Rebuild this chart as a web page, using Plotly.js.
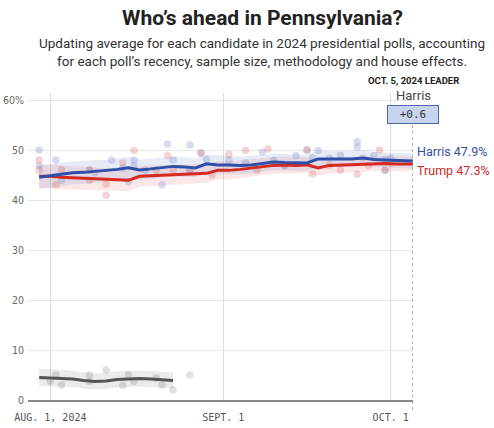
<!DOCTYPE html>
<html><head><meta charset="utf-8">
<script src="https://cdn.plot.ly/plotly-3.0.1.min.js"></script>
<style>html,body{margin:0;padding:0;background:#fff}#chart{width:494px;height:428px}</style>
</head><body><div id="chart"></div>
<script>
// ---- data ----
const avgDates = ["2024-07-30","2024-08-01","2024-08-03","2024-08-05","2024-08-07","2024-08-09","2024-08-11","2024-08-13","2024-08-15","2024-08-17","2024-08-19","2024-08-21","2024-08-23","2024-08-25","2024-08-27","2024-08-29","2024-08-31","2024-09-02","2024-09-04","2024-09-06","2024-09-08","2024-09-10","2024-09-12","2024-09-14","2024-09-16","2024-09-18","2024-09-20","2024-09-22","2024-09-24","2024-09-26","2024-09-28","2024-09-30","2024-10-02","2024-10-04","2024-10-05"];
const harrisAvg = [44.6,44.9,45.2,45.5,45.6,45.8,45.9,46.2,46.5,46.1,46.3,46.6,46.8,46.7,46.5,47.3,47.1,47.1,47.0,47.1,47.4,47.7,47.6,47.5,47.5,48.3,48.3,48.3,48.3,48.5,48.2,48.1,48.0,47.9,47.9];
const trumpAvg  = [44.8,44.8,44.6,44.5,44.4,44.3,44.2,44.1,44.0,44.8,44.9,45.0,45.1,45.2,45.3,45.4,46.0,46.0,46.2,46.5,46.8,47.0,47.1,47.0,47.1,46.5,47.0,47.1,47.2,47.2,47.4,47.4,47.3,47.3,47.3];
const bandHalf  = [2.4,2.4,2.4,2.3,2.3,2.3,2.2,2.2,2.2,2.1,2.1,2.0,2.0,2.0,1.9,1.9,1.9,1.8,1.8,1.8,1.7,1.7,1.7,1.7,1.6,1.6,1.6,1.6,1.6,1.6,1.5,1.5,1.5,1.5,1.5];

const kennedyDates = ["2024-07-30","2024-08-01","2024-08-03","2024-08-05","2024-08-07","2024-08-09","2024-08-11","2024-08-13","2024-08-15","2024-08-17","2024-08-19","2024-08-21","2024-08-23"];
const kennedyAvg   = [4.5,4.4,4.4,4.2,3.9,3.7,3.8,4.1,4.2,4.3,4.2,4.1,3.9];
const kennedyBand  = [1.7,1.7,1.7,1.6,1.6,1.6,1.6,1.6,1.6,1.6,1.6,1.6,1.6];

const harrisPollDates = ["2024-07-30","2024-07-30","2024-08-02","2024-08-03","2024-08-08","2024-08-09","2024-08-12","2024-08-14","2024-08-15","2024-08-16","2024-08-16","2024-08-18","2024-08-21","2024-08-22","2024-08-23","2024-08-26","2024-08-26","2024-08-28","2024-08-29","2024-09-02","2024-09-05","2024-09-08","2024-09-10","2024-09-12","2024-09-14","2024-09-16","2024-09-17","2024-09-18","2024-09-20","2024-09-22","2024-09-25","2024-09-25","2024-09-26","2024-09-28","2024-09-30","2024-09-30","2024-10-01"];
const harrisPolls = [50.1,47.0,48.1,44.0,46.0,45.5,48.1,46.5,43.7,48.1,47.0,46.0,43.1,51.3,48.1,51.1,46.1,49.5,48.2,48.0,47.5,49.7,48.0,47.0,49.0,50.0,48.5,50.0,48.5,49.0,51.8,50.7,48.5,49.0,48.2,46.0,48.5];
const trumpPollDates = ["2024-07-30","2024-07-30","2024-08-02","2024-08-03","2024-08-08","2024-08-08","2024-08-11","2024-08-11","2024-08-14","2024-08-16","2024-08-20","2024-08-22","2024-08-23","2024-08-26","2024-08-28","2024-08-30","2024-09-02","2024-09-05","2024-09-07","2024-09-09","2024-09-12","2024-09-16","2024-09-17","2024-09-20","2024-09-22","2024-09-25","2024-09-27","2024-09-29","2024-09-30","2024-10-01"];
const trumpPolls = [48.1,46.1,43.1,46.1,46.1,44.0,43.2,41.0,47.5,50.0,46.0,49.0,46.1,46.0,49.5,45.0,49.2,50.0,46.0,50.3,47.0,50.2,45.3,47.0,46.0,45.2,47.0,50.1,46.0,47.5];
const kennedyPollDates = ["2024-08-01","2024-08-02","2024-08-03","2024-08-08","2024-08-08","2024-08-11","2024-08-14","2024-08-15","2024-08-16","2024-08-20","2024-08-21","2024-08-23","2024-08-26"];
const kennedyPolls = [3.8,5.0,3.0,5.0,3.7,6.0,2.9,5.1,3.7,4.4,3.0,2.0,5.0];

const tickVals = ["2024-08-01","2024-09-01","2024-10-01"];
const tickText = ["AUG. 1, 2024","SEPT. 1","OCT. 1"];
const yTickVals = [0,10,20,30,40,50,60];
const yTickText = ["0","10","20","30","40","50","60%"];
const leaderDate = "2024-10-05";
const leaderName = "Harris";
const leaderMargin = "+0.6";
const harrisLatest = 47.9, trumpLatest = 47.3;

// ---- helpers ----
const L = 28, R = 413, T = 92.5, B = 400;
const px = x => (x - L) / (R - L);
const py = y => (B - y) / (B - T);
const add = (a, b, s) => a.map((v, i) => +(v + s * b[i]).toFixed(2));

function band(dates, avg, half, color) {
  return [
    {x: dates, y: add(avg, half, -1), mode: 'lines', line: {width: 0}, hoverinfo: 'skip', showlegend: false},
    {x: dates, y: add(avg, half, 1), mode: 'lines', line: {width: 0}, fill: 'tonexty', fillcolor: color, hoverinfo: 'skip', showlegend: false}
  ];
}
function dots(dates, vals, color) {
  return {x: dates, y: vals, mode: 'markers', marker: {size: 7.5, color: color}, showlegend: false, hoverinfo: 'skip'};
}
function line(dates, vals, color) {
  return {x: dates, y: vals, mode: 'lines', line: {color: color, width: 3}, showlegend: false};
}

const traces = [
  ...band(avgDates, trumpAvg, bandHalf, 'rgba(231,110,110,0.17)'),
  ...band(avgDates, harrisAvg, bandHalf, 'rgba(110,135,205,0.17)'),
  ...band(kennedyDates, kennedyAvg, kennedyBand, 'rgba(0,0,0,0.08)'),
  dots(harrisPollDates, harrisPolls, 'rgba(120,140,200,0.3)'),
  dots(trumpPollDates, trumpPolls, 'rgba(215,110,110,0.3)'),
  dots(kennedyPollDates, kennedyPolls, 'rgba(0,0,0,0.12)'),
  line(kennedyDates, kennedyAvg, '#555555'),
  line(avgDates, trumpAvg, '#d42a20'),
  line(avgDates, harrisAvg, '#2f4fa8')
];

const layout = {
  width: 494, height: 428,
  margin: {l: L, r: 494 - R, t: T, b: 428 - B},
  paper_bgcolor: '#fff', plot_bgcolor: '#fff',
  showlegend: false,
  xaxis: {
    type: 'date', range: ['2024-07-28', '2024-10-05'],
    tickvals: tickVals, ticktext: tickText,
    showgrid: true, gridcolor: '#dddddd', gridwidth: 1,
    showline: true, linecolor: '#888888', linewidth: 1.5,
    ticks: '', ticklabelstandoff: 7,
    tickfont: {family: 'DejaVu Sans Mono', size: 10, color: '#555'},
    zeroline: false, fixedrange: true
  },
  yaxis: {
    range: [0, 61.5],
    tickvals: yTickVals, ticktext: yTickText,
    showgrid: true, gridcolor: '#e6e6e6', gridwidth: 1,
    zeroline: false, showline: false, ticks: '', ticklabelstandoff: 3,
    tickfont: {family: 'DejaVu Sans Condensed', size: 10.5, color: '#666'},
    fixedrange: true
  },
  shapes: [
    {type: 'line', xref: 'x', yref: 'paper', x0: leaderDate, x1: leaderDate, y0: py(410), y1: py(122),
     line: {color: '#999', width: 1.5, dash: 'dot'}}
  ],
  annotations: [
    {xref: 'paper', yref: 'paper', x: px(262), y: py(17), xanchor: 'center', yanchor: 'middle', showarrow: false,
     text: "<b>Who’s ahead in Pennsylvania?</b>", font: {family: 'Roboto', size: 21, color: '#222'}},
    {xref: 'paper', yref: 'paper', x: px(262), y: py(51.5), xanchor: 'center', yanchor: 'middle', showarrow: false, align: 'center',
     text: "Updating average for each candidate in 2024 presidential polls, accounting<br>for each poll’s recency, sample size, methodology and house effects.",
     font: {family: 'Roboto', size: 13.5, color: '#333'}},
    {xref: 'x', yref: 'paper', x: leaderDate, y: py(80), xanchor: 'center', yanchor: 'middle', showarrow: false,
     text: "<b>OCT. 5, 2024 LEADER</b>", font: {family: 'Roboto', size: 9.5, color: '#222'}},
    {xref: 'x', yref: 'paper', x: leaderDate, y: py(95), xanchor: 'center', yanchor: 'middle', showarrow: false,
     text: leaderName, font: {family: 'Roboto', size: 13, color: '#444'}},
    {xref: 'x', yref: 'paper', x: leaderDate, y: py(114), xanchor: 'center', yanchor: 'middle', showarrow: false,
     text: leaderMargin, bgcolor: '#c9d4ee', bordercolor: '#4f65a3', borderwidth: 1, borderpad: 2, width: 46,
     font: {family: 'DejaVu Sans Mono', size: 11, color: '#333'}},
    {xref: 'paper', yref: 'paper', x: px(415), y: py(151), xanchor: 'left', yanchor: 'middle', showarrow: false,
     text: "Harris " + harrisLatest + "%", font: {family: 'Roboto', size: 12.5, color: '#3350a0'}},
    {xref: 'paper', yref: 'paper', x: px(415), y: py(170), xanchor: 'left', yanchor: 'middle', showarrow: false,
     text: "Trump " + trumpLatest + "%", font: {family: 'Roboto', size: 12.5, color: '#d0281f'}}
  ]
};

Plotly.newPlot('chart', traces, layout, {displayModeBar: false, staticPlot: true});
</script>
</body></html>
